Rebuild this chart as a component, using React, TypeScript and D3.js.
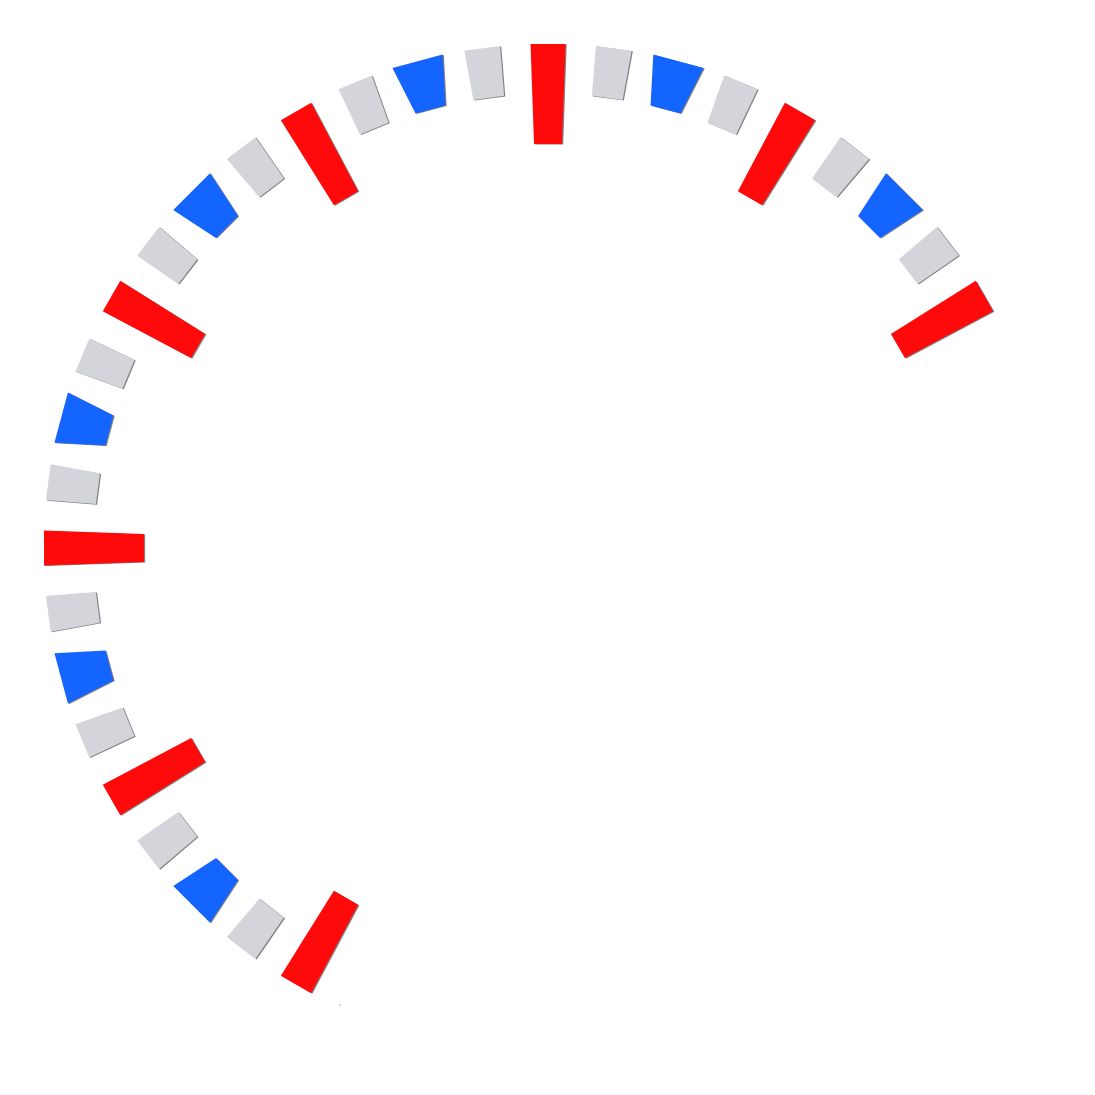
import React from "react";
import * as d3 from "d3";

// Gauge tick marks, from the first (index 0) to the last (index 28)
const tickKinds: string[] = [
  "major", "minor", "mid", "minor",
  "major", "minor", "mid", "minor",
  "major", "minor", "mid", "minor",
  "major", "minor", "mid", "minor",
  "major", "minor", "mid", "minor",
  "major", "minor", "mid", "minor",
  "major", "minor", "mid", "minor",
  "major",
];
// Start / end angle of the gauge (degrees, 0 = up, clockwise)
const gaugeAngles: number[] = [-150, 60];
const kindColors: Record<string, string> = {
  major: "#ff0a0a",
  mid: "#1464ff",
  minor: "#d4d4db",
};

const W = 1095;
const H = 1095;
const CX = 548;
const CY = 548;

// shape per kind: [innerR, outerR, innerWidth, outerWidth]
const SHAPES: Record<string, [number, number, number, number]> = {
  major: [404, 504, 28, 35],
  mid: [454, 504, 31, 52],
  minor: [454, 504, 31, 36],
};

export default function App() {
  const angle = d3
    .scaleLinear()
    .domain([0, tickKinds.length - 1])
    .range(gaugeAngles);

  const line = d3
    .line<[number, number]>()
    .x((d) => d[0])
    .y((d) => d[1])
    .curve(d3.curveLinearClosed);

  const ticks = tickKinds.map((kind, i) => {
    const a = (angle(i) * Math.PI) / 180;
    const ux = Math.sin(a);
    const uy = -Math.cos(a);
    const tx = Math.cos(a);
    const ty = Math.sin(a);
    const [ri, ro, wi, wo] = SHAPES[kind];
    const pts: [number, number][] = [
      [CX + ux * ro - (tx * wo) / 2, CY + uy * ro - (ty * wo) / 2],
      [CX + ux * ro + (tx * wo) / 2, CY + uy * ro + (ty * wo) / 2],
      [CX + ux * ri + (tx * wi) / 2, CY + uy * ri + (ty * wi) / 2],
      [CX + ux * ri - (tx * wi) / 2, CY + uy * ri - (ty * wi) / 2],
    ];
    return { kind, d: line(pts) || "", i };
  });

  return (
    <svg
      width={W}
      height={H}
      style={{ position: "absolute", left: 0, top: 0, display: "block" }}
    >
      <rect x={0} y={0} width={W} height={H} fill="#ffffff" />
      <g>
        {ticks.map((t) => (
          <path
            key={"s" + t.i}
            d={t.d}
            fill="#555"
            opacity={0.75}
            transform="translate(1.2,0.6)"
          />
        ))}
        {ticks.map((t) => (
          <path key={t.i} d={t.d} fill={kindColors[t.kind]} />
        ))}
      </g>
      <circle cx={340} cy={1005} r={0.7} fill="#888" />
    </svg>
  );
}
